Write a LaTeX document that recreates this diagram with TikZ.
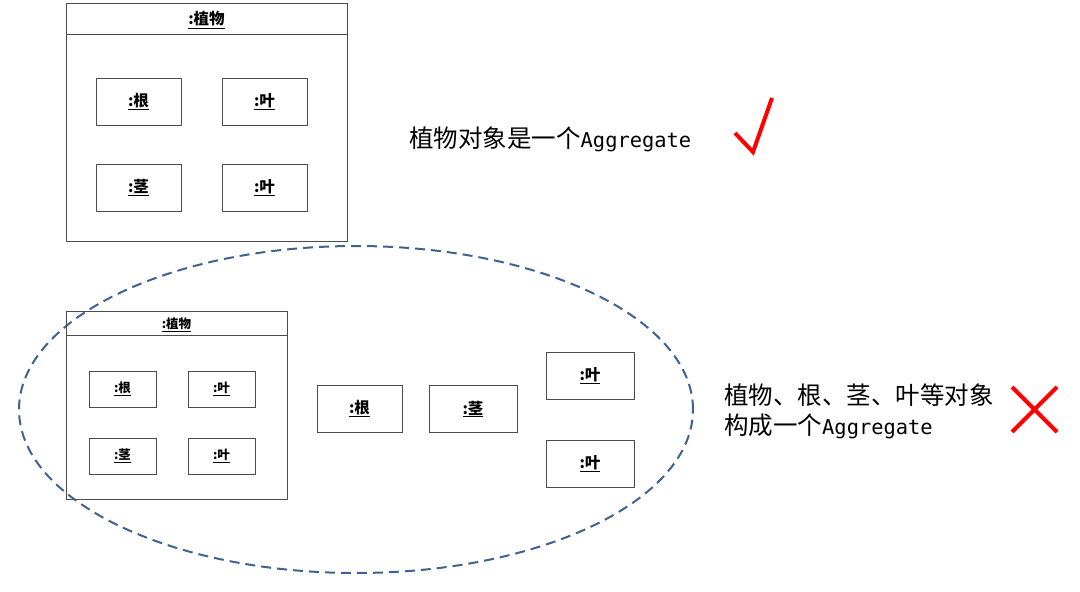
\documentclass[tikz,border=0pt]{standalone}
\usepackage{fontspec}
\setmainfont{Noto Sans CJK SC}
\newfontfamily\monof{DejaVu Sans Mono}
\begin{document}
\begin{tikzpicture}[x=1pt,y=-1pt,
  frame/.style={draw=black!70, line width=1pt, inner sep=0pt},
  obj/.style={draw=black!70, line width=1pt, minimum width=85pt, minimum height=47pt, inner sep=0pt, font=\fontsize{15.5}{15.5}\selectfont\bfseries},
  sobj/.style={draw=black!70, line width=1pt, minimum width=67pt, minimum height=36pt, inner sep=0pt, font=\fontsize{12.5}{12.5}\selectfont\bfseries},
  ttl/.style={inner sep=0pt, font=\fontsize{15.5}{15.5}\selectfont\bfseries},
  sttl/.style={inner sep=0pt, font=\fontsize{12.5}{12.5}\selectfont\bfseries},
  note/.style={inner sep=0pt, align=left, font=\fontsize{24.5}{30}\selectfont},
  redmark/.style={draw=red, line width=4pt},
  aggline/.style={draw={rgb,255:red,65;green,98;blue,143}, line width=2pt, dash pattern=on 10pt off 6pt}
]
\fill[white] (0,0) rectangle (1080,592);
\useasboundingbox (0,0) rectangle (1080,592);
\newcommand{\agg}{{\monof\fontsize{20.4}{30}\selectfont Aggregate}}

% ellipse
\draw[aggline] (356,409.5) ellipse [x radius=337pt, y radius=163.5pt];

% top frame
\node[frame, minimum width=281pt, minimum height=238pt] (p1) at (206.5,122) {};
\draw[black!70, line width=1pt] ([yshift=-32pt]p1.north west) -- ([yshift=-32pt]p1.north east);
\node[ttl] (p1t) at (206.5,20) {\underline{:植物}};
\node[obj] (r1) at (138.5,101.5) {\underline{:根}};
\node[obj] (l1) at (264.5,101.5) {\underline{:叶}};
\node[obj] (s1) at (138.5,187.5) {\underline{:茎}};
\node[obj] (l2) at (264.5,187.5) {\underline{:叶}};

% bottom frame
\node[frame, minimum width=221pt, minimum height=188pt] (p2) at (176.5,405) {};
\draw[black!70, line width=1pt] ([yshift=-25pt]p2.north west) -- ([yshift=-25pt]p2.north east);
\node[sttl] (p2t) at (176.5,325) {\underline{:植物}};
\node[sobj] (r2) at (122.5,389) {\underline{:根}};
\node[sobj] (l3) at (221.5,389) {\underline{:叶}};
\node[sobj] (s2) at (122.5,456) {\underline{:茎}};
\node[sobj] (l4) at (221.5,456) {\underline{:叶}};

% loose objects
\node[obj] (r3) at (359.5,408.5) {\underline{:根}};
\node[obj, minimum width=88pt] (s3) at (473,409) {\underline{:茎}};
\node[obj, minimum width=88pt] (l5) at (590,376) {\underline{:叶}};
\node[obj, minimum width=88pt] (l6) at (590,464) {\underline{:叶}};

% notes
\node[note, anchor=west] (n1) at (409,139) {植物对象是一个\agg};
\node[note, anchor=west] (n2) at (724,411) {植物、根、茎、叶等对象\\构成一个\agg};

% check mark and cross
\draw[redmark] (735,133) -- (753,152) -- (772,98);
\draw[redmark] (1012,387) -- (1057,432) (1057,387) -- (1012,432);
\end{tikzpicture}
\end{document}
